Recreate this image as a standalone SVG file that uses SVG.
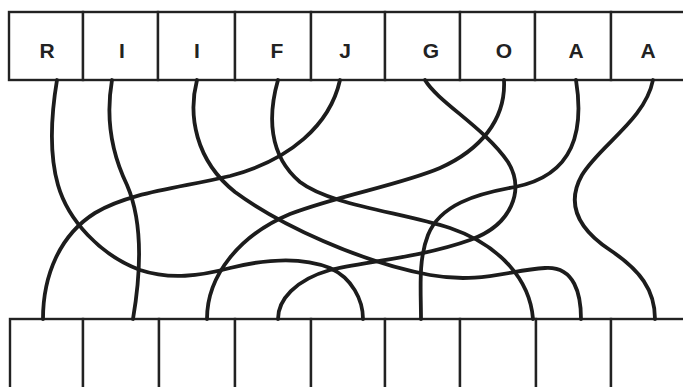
<svg xmlns="http://www.w3.org/2000/svg" width="683" height="387" viewBox="0 0 683 387">
<style>
.box{fill:#fff;stroke:#222;stroke-width:2.4}
.lbl{font-family:"Liberation Sans","DejaVu Sans",sans-serif;font-weight:bold;font-size:21px;fill:#222;text-anchor:middle}
.wire{fill:none;stroke:#1c1c1c;stroke-width:3.8;stroke-linecap:round;stroke-linejoin:round}
</style>
<rect width="683" height="387" fill="#fff"/>
<g id="top-row">
<g id="t1"><rect class="box" x="9" y="12" width="74" height="68"/><text class="lbl" x="47" y="58">R</text></g>
<g id="t2"><rect class="box" x="83" y="12" width="75" height="68"/><text class="lbl" x="122" y="58">I</text></g>
<g id="t3"><rect class="box" x="158" y="12" width="77" height="68"/><text class="lbl" x="197" y="58">I</text></g>
<g id="t4"><rect class="box" x="235" y="12" width="76" height="68"/><text class="lbl" x="277" y="58">F</text></g>
<g id="t5"><rect class="box" x="311" y="12" width="74" height="68"/><text class="lbl" x="345" y="58">J</text></g>
<g id="t6"><rect class="box" x="385" y="12" width="75" height="68"/><text class="lbl" x="431" y="58">G</text></g>
<g id="t7"><rect class="box" x="460" y="12" width="75" height="68"/><text class="lbl" x="504" y="58">O</text></g>
<g id="t8"><rect class="box" x="535" y="12" width="76" height="68"/><text class="lbl" x="576" y="58">A</text></g>
<g id="t9"><rect class="box" x="611" y="12" width="75" height="68"/><text class="lbl" x="648" y="58">A</text></g>
</g>
<g id="bottom-row">
<g id="b1"><rect class="box" x="10" y="319" width="73" height="75"/></g>
<g id="b2"><rect class="box" x="83" y="319" width="76" height="75"/></g>
<g id="b3"><rect class="box" x="159" y="319" width="76" height="75"/></g>
<g id="b4"><rect class="box" x="235" y="319" width="76" height="75"/></g>
<g id="b5"><rect class="box" x="311" y="319" width="74" height="75"/></g>
<g id="b6"><rect class="box" x="385" y="319" width="75" height="75"/></g>
<g id="b7"><rect class="box" x="460" y="319" width="76" height="75"/></g>
<g id="b8"><rect class="box" x="536" y="319" width="75" height="75"/></g>
<g id="b9"><rect class="box" x="611" y="319" width="75" height="75"/></g>
</g>
<g id="connectors">
<path class="wire" d="M57,80 C52,110 48,150 58,185 C68,220 100,255 140,270 C170,280 200,276 230,268 C262,260 300,256 330,268 C352,278 363,300 363,319"/>
<path class="wire" d="M112,80 C106,115 110,150 127,185 C140,215 143,260 133,319"/>
<path class="wire" d="M197,80 C188,115 195,160 235,192 C280,225 360,262 430,275 C480,284 510,270 545,268 C575,266 581,295 581,319"/>
<path class="wire" d="M278,80 C268,115 268,155 300,182 C330,205 400,212 450,228 C500,245 530,280 533,319"/>
<path class="wire" d="M340,80 C330,125 290,160 230,176 C180,188 130,192 95,213 C60,235 43,275 43,319"/>
<path class="wire" d="M425,80 C438,102 485,128 508,162 C525,190 512,225 470,240 C420,258 360,262 330,270 C295,280 278,300 278,319"/>
<path class="wire" d="M504,80 C506,120 480,150 440,168 C400,185 340,195 290,214 C240,235 207,275 207,319"/>
<path class="wire" d="M576,80 C584,130 575,175 515,187 C475,194 440,205 428,235 C418,260 421,290 421,319"/>
<path class="wire" d="M653,80 C645,120 600,145 582,175 C565,205 580,230 610,250 C640,270 655,290 655,319"/>
</g>
</svg>
